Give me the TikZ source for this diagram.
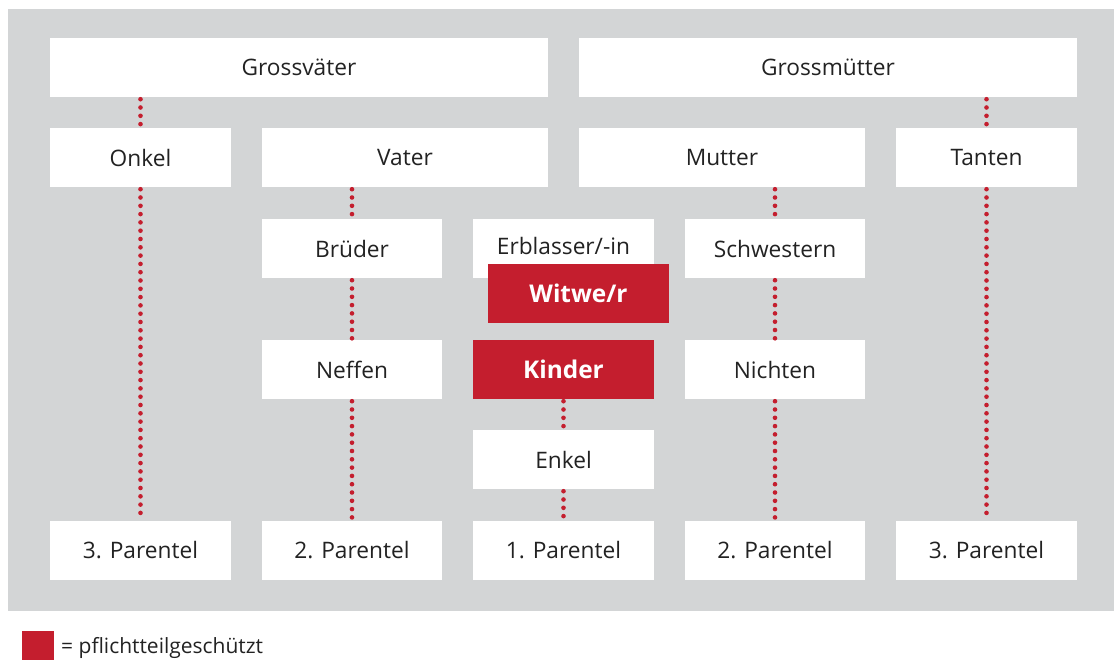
\documentclass[tikz,border=0pt]{standalone}
\usepackage{fontspec}
\setmainfont{Open Sans}
\definecolor{bg}{HTML}{D3D5D6}
\definecolor{rd}{HTML}{C41E2E}
\definecolor{tx}{HTML}{222222}
\begin{document}
\begin{tikzpicture}[x=1pt,y=-1pt,
  box/.style={fill=white,draw=none,inner sep=0pt,text=tx,font=\fontsize{22.7}{26}\selectfont},
  redbox/.style={fill=rd,draw=none,inner sep=0pt,text=white,font=\fontsize{24.4}{28}\selectfont\bfseries},
  dotline/.style={draw=rd,line width=4.6pt,line cap=round,dash pattern=on 0pt off 8.3pt,shorten <=2pt}]
\useasboundingbox (0,0) rectangle (1114,659);
\fill[bg] (8,9) rectangle (1114,611);
% boxes: name, x1,y1,x2,y2
\newcommand{\bx}[7]{\node[#1,minimum width=#5-#3,minimum height=#6-#4] (#2) at ({(#3+#5)/2},{(#4+#6)/2}) {#7};}
\bx{box}{gv}{50}{38}{548}{97}{Grossväter}
\bx{box}{gm}{579}{38}{1077}{97}{Grossmütter}
\bx{box}{onkel}{50}{128}{231}{187}{Onkel}
\bx{box}{vater}{262}{128}{548}{187}{Vater}
\bx{box}{mutter}{579}{128}{865}{187}{Mutter}
\bx{box}{tanten}{896}{128}{1077}{187}{Tanten}
\bx{box}{brueder}{262}{219}{442}{278}{Brüder}
\bx{box}{erb}{473}{219}{654}{278}{\raisebox{5pt}{Erblasser/-in}}
\bx{box}{schw}{685}{219}{865}{278}{Schwestern}
\bx{redbox}{witwe}{488}{264}{669}{323}{Witwe/r}
\bx{box}{neffen}{262}{340}{442}{399}{Neffen}
\bx{redbox}{kinder}{473}{340}{654}{399}{Kinder}
\bx{box}{nichten}{685}{340}{865}{399}{Nichten}
\bx{box}{enkel}{473}{430}{654}{489}{Enkel}
\bx{box}{pa}{50}{521}{231}{580}{3. Parentel}
\bx{box}{pb}{262}{521}{442}{580}{2. Parentel}
\bx{box}{pc}{473}{521}{654}{580}{1. Parentel}
\bx{box}{pd}{685}{521}{865}{580}{2. Parentel}
\bx{box}{pe}{896}{521}{1077}{580}{3. Parentel}
% dotted connectors
\draw[dotline] (onkel.north |- gv.south) -- (onkel.north);
\draw[dotline] (onkel.south) -- (pa.north);
\draw[dotline] (tanten.north |- gm.south) -- (tanten.north);
\draw[dotline] (tanten.south) -- (pe.north);
\draw[dotline] (brueder.north |- vater.south) -- (brueder.north);
\draw[dotline] (brueder.south) -- (neffen.north);
\draw[dotline] (neffen.south) -- (pb.north);
\draw[dotline] (schw.north |- mutter.south) -- (schw.north);
\draw[dotline] (schw.south) -- (nichten.north);
\draw[dotline] (nichten.south) -- (pd.north);
\draw[dotline] (kinder.south) -- (enkel.north);
\draw[dotline] (enkel.south) -- (pc.north);
% legend
\node[fill=rd,minimum width=32pt,minimum height=30pt,inner sep=0pt] (leg) at (38,646) {};
\node[anchor=west,text=tx,font=\fontsize{21}{24}\selectfont,inner sep=0pt] (legtxt) at (61,648) {= pflichtteilgeschützt};
\end{tikzpicture}
\end{document}
